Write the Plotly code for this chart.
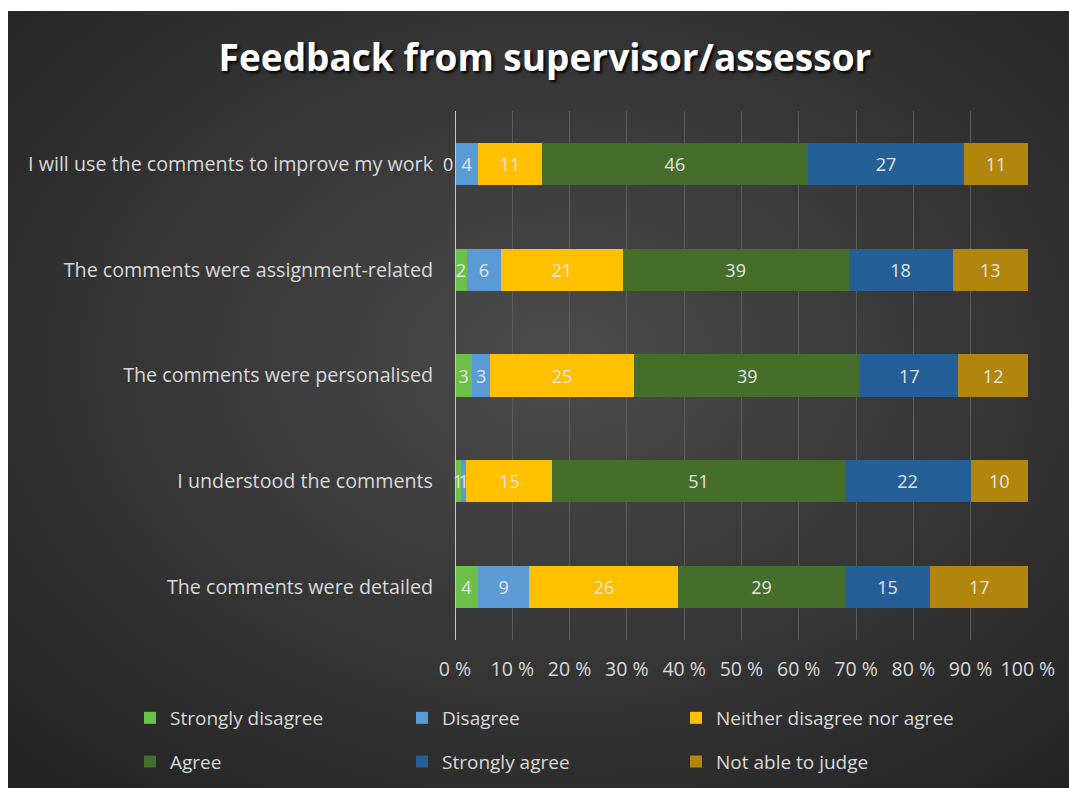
import base64
import plotly.graph_objects as go

categories = [
    "I will use the comments to improve my work",
    "The comments were assignment-related",
    "The comments were personalised",
    "I understood the comments",
    "The comments were detailed",
]
series_names = ["Strongly disagree", "Disagree", "Neither disagree nor agree",
                "Agree", "Strongly agree", "Not able to judge"]
strongly_disagree = [0, 2, 3, 1, 4]
disagree = [4, 6, 3, 1, 9]
neither = [11, 21, 25, 15, 26]
agree = [46, 39, 39, 51, 29]
strongly_agree = [27, 18, 17, 22, 15]
not_able = [11, 13, 12, 10, 17]
tick_vals = [0, 10, 20, 30, 40, 50, 60, 70, 80, 90, 100]
tick_text = ["0 %", "10 %", "20 %", "30 %", "40 %", "50 %", "60 %", "70 %", "80 %", "90 %", "100 %"]

colors = ["#6cc04a", "#5b9bd5", "#ffc000", "#446e2a", "#255f98", "#b2860c"]
series = [strongly_disagree, disagree, neither, agree, strongly_agree, not_able]
legend_of = ["legend", "legend2", "legend3", "legend", "legend2", "legend3"]

W, H = 1069, 788
L, R, T, B = 455, 41, 111, 148
pw, ph = W - L - R, H - T - B
BX, BY = 8, 11  # white border of the original picture

svg = ("<svg xmlns='http://www.w3.org/2000/svg' width='1061' height='777' preserveAspectRatio='none'>"
       "<defs><radialGradient id='g' cx='52%' cy='45%' r='72%'>"
       "<stop offset='0' stop-color='#4b4b4b'/><stop offset='1' stop-color='#242424'/>"
       "</radialGradient></defs><rect width='100%' height='100%' fill='url(#g)'/></svg>")
bg_uri = "data:image/svg+xml;base64," + base64.b64encode(svg.encode()).decode()

font = "Open Sans"
fig = go.Figure()
for i, (name, vals, col) in enumerate(zip(series_names, series, colors)):
    fig.add_trace(go.Bar(
        y=categories, x=vals, name=name, orientation="h",
        marker=dict(color=col, line=dict(width=0)),
        text=[str(v) for v in vals], textposition="inside",
        insidetextanchor="middle", cliponaxis=False,
        textfont=dict(color="#e4e4e4", size=18, family=font),
        legend=legend_of[i], legendgroup=name,
    ))

# labels for zero-valued segments (plotly does not draw text on empty bars)
annotations = []
totals = [sum(s[j] for s in series) for j in range(len(categories))]
for j, cat in enumerate(categories):
    cum = 0
    for s in series:
        if s[j] == 0:
            annotations.append(dict(x=cum / totals[j] * 100, y=cat, xref="x", yref="y",
                                    text=str(s[j]), showarrow=False, xanchor="right",
                                    font=dict(color="#e4e4e4", size=18, family=font)))
        cum += s[j]

legend_common = dict(orientation="v", xanchor="left", yanchor="top",
                     xref="container", yref="container",
                     y=1 - 699 / H, traceorder="grouped", tracegroupgap=16,
                     itemwidth=30, font=dict(family=font, size=19, color="#d9d9d9"),
                     bgcolor="rgba(0,0,0,0)")

fig.update_layout(
    width=W, height=H,
    barmode="stack", barnorm="percent", bargap=0.6,
    paper_bgcolor="white", plot_bgcolor="rgba(0,0,0,0)",
    margin=dict(l=L, r=R, t=T, b=B, pad=0, autoexpand=False),
    uniformtext=dict(minsize=18, mode="show"),
    title=dict(text="<b>Feedback from supervisor/assessor</b>", x=545 / W, xref="container",
               xanchor="center", y=1 - 58 / H, yanchor="middle",
               font=dict(family=font, size=37, color="white",
                         shadow="2px 2px 3px #000")),
    xaxis=dict(range=[0, 100.02], tickvals=tick_vals, ticktext=tick_text,
               showgrid=True, gridcolor="#5c5c5c", gridwidth=1,
               zeroline=False, showline=False, ticks="",
               tickfont=dict(family=font, size=19.5, color="#d9d9d9"),
               ticklabelstandoff=15),
    yaxis=dict(categoryorder="array", categoryarray=categories, autorange="reversed",
               showgrid=False, zeroline=False, showline=False, ticks="",
               tickfont=dict(family=font, size=19.7, color="#d9d9d9"),
               ticklabelstandoff=21),
    legend=dict(legend_common, x=130 / W),
    legend2=dict(legend_common, x=402 / W),
    legend3=dict(legend_common, x=676 / W),
    annotations=annotations,
    images=[dict(source=bg_uri, xref="paper", yref="paper",
                 x=(BX - L) / pw, y=(H - B - BY) / ph,
                 sizex=(W - BX) / pw, sizey=(H - BY) / ph,
                 xanchor="left", yanchor="top", sizing="stretch", layer="below")],
    shapes=[dict(type="line", xref="x", yref="paper", x0=0, x1=0, y0=0, y1=1,
                 line=dict(color="#c8c8c8", width=2), layer="above")],
    showlegend=True,
)
fig.write_html("out.html", config={"displayModeBar": False},
               post_script="document.body.style.margin='0';document.body.style.overflow='hidden';")
